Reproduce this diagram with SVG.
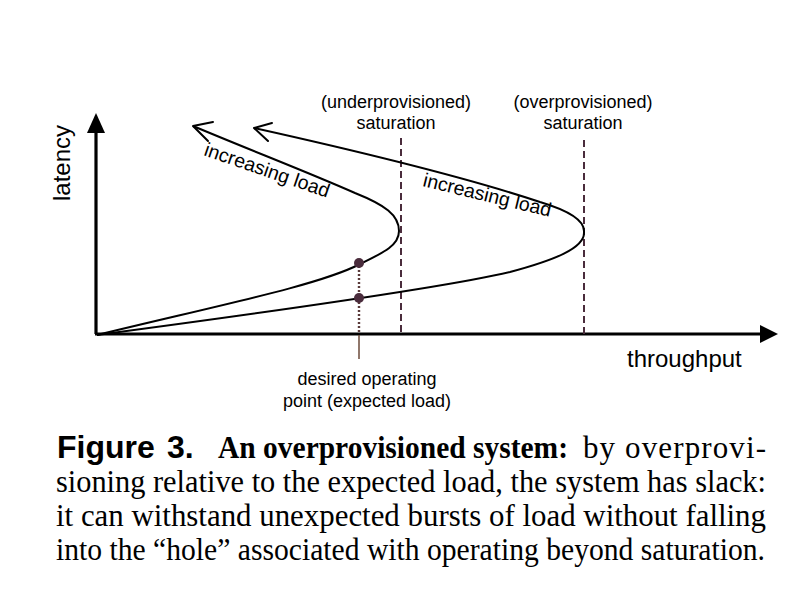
<svg xmlns="http://www.w3.org/2000/svg" width="810" height="600" viewBox="0 0 810 600">
<style>
  .sans { font-family: "Liberation Sans", Arial, sans-serif; fill: #000; }
  .serif { font-family: "Liberation Serif", "Times New Roman", serif; fill: #000; }
  .lbl { font-size: 18px; text-anchor: middle; }
  .inc { font-size: 19.5px; }
  .axis { stroke: #000; stroke-width: 3.2; fill: none; }
  .curve { stroke: #000; stroke-width: 2; fill: none; }
  .ah { stroke: #000; stroke-width: 2; fill: none; stroke-linecap: round; stroke-linejoin: round; }
  .dash { stroke: #4a2c3c; stroke-width: 2; stroke-dasharray: 7 4; fill: none; }
  .dot { stroke: #5a3a3a; stroke-width: 2.4; stroke-dasharray: 2 2; fill: none; }
  .pt { fill: #4a2c3c; }
  .cap { font-size: 31px; }
</style>
<rect width="810" height="600" fill="#fff"/>

<g id="axes">
  <line class="axis" x1="96" y1="334" x2="96" y2="131"/>
  <polygon points="96,113 87,133 105,133" fill="#000"/>
  <line class="axis" x1="95" y1="334" x2="762" y2="334"/>
  <polygon points="778,334 760,325 760,343" fill="#000"/>
  <text class="sans" font-size="24" transform="translate(70,163) rotate(-90)" text-anchor="middle">latency</text>
  <text class="sans" font-size="24" x="627" y="367">throughput</text>
</g>

<g id="connectors">
  <line class="dash" x1="401" y1="138" x2="401" y2="334"/>
  <line class="dash" x1="584" y1="140" x2="584" y2="334"/>
  <line class="dot" x1="359" y1="266" x2="359" y2="334"/>
  <line x1="359" y1="335" x2="359" y2="359" stroke="#6b4a3a" stroke-width="1.5"/>
  <path class="curve" d="M97,335 C220,305 320,285 360,264 C385,252 399,245 399,231 C399,215 385,205 355,193 C310,173 250,150 193,126"/>
  <path class="ah" d="M213,122 L193,126 L208,141"/>
  <path class="curve" d="M97,335 C300,308 460,284 510,272 C555,260 584,248 584,233 L584,231 C584,221 570,211 540,202 C480,182 380,156 254,128"/>
  <path class="ah" d="M272,123 L254,128 L268,141"/>
</g>

<g id="operating-points">
  <circle class="pt" cx="359" cy="263" r="5"/>
  <circle class="pt" cx="359" cy="298" r="5"/>
</g>

<g id="label-under">
  <text class="sans lbl" x="396" y="108">(underprovisioned)</text>
  <text class="sans lbl" x="396" y="129">saturation</text>
</g>
<g id="label-over">
  <text class="sans lbl" x="583" y="108">(overprovisioned)</text>
  <text class="sans lbl" x="583" y="129">saturation</text>
</g>
<g id="label-desired">
  <text class="sans lbl" x="367" y="385">desired operating</text>
  <text class="sans lbl" x="367" y="407">point (expected load)</text>
</g>
<g id="label-inc1">
  <text class="sans inc" transform="translate(203,155) rotate(19)">increasing load</text>
</g>
<g id="label-inc2">
  <text class="sans inc" transform="translate(422,186) rotate(13.6)">increasing load</text>
</g>

<g id="caption">
  <text class="sans" font-size="32" font-weight="bold" x="57" y="458">Figure</text>
  <text class="sans" font-size="32" font-weight="bold" x="167" y="458">3.</text>
  <text class="serif cap" font-weight="bold" x="218" y="458" textLength="350" lengthAdjust="spacingAndGlyphs">An overprovisioned system:</text>
  <text class="serif cap" x="583" y="458" textLength="183" lengthAdjust="spacing">by overprovi-</text>
  <text class="serif cap" x="56" y="492" textLength="710" lengthAdjust="spacingAndGlyphs">sioning relative to the expected load, the system has slack:</text>
  <text class="serif cap" x="56" y="526" textLength="710" lengthAdjust="spacingAndGlyphs">it can withstand unexpected bursts of load without falling</text>
  <text class="serif cap" x="56" y="560" textLength="709" lengthAdjust="spacingAndGlyphs">into the “hole” associated with operating beyond saturation.</text>
</g>
</svg>
